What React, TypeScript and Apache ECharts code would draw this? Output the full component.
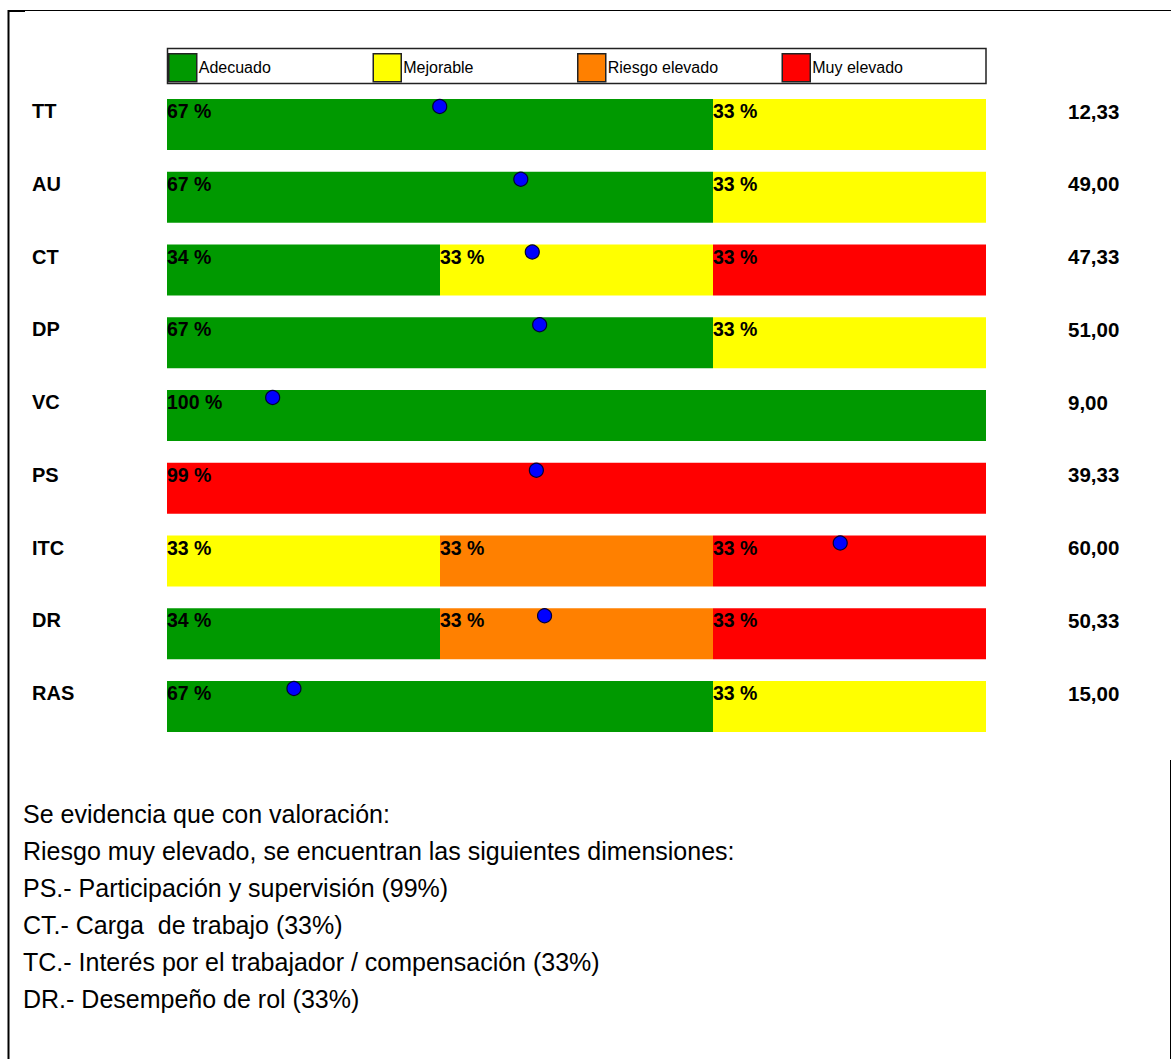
import React, { useEffect, useRef } from "react";
import * as echarts from "echarts";

// ---- data ----
const rows = ["TT", "AU", "CT", "DP", "VC", "PS", "ITC", "DR", "RAS"];
const levels = ["Adecuado", "Mejorable", "Riesgo elevado", "Muy elevado"];

// number of workers (of 3) in each level, per dimension
const workersAdecuado = [2, 2, 1, 2, 3, 0, 0, 1, 2];
const workersMejorable = [1, 1, 1, 1, 0, 0, 1, 0, 1];
const workersRiesgo = [0, 0, 0, 0, 0, 0, 1, 1, 0];
const workersMuy = [0, 0, 1, 0, 0, 3, 1, 1, 0];

// percentage labels as printed
const pctAdecuado = [67, 67, 34, 67, 100, 0, 0, 34, 67];
const pctMejorable = [33, 33, 33, 33, 0, 0, 33, 0, 33];
const pctRiesgo = [0, 0, 0, 0, 0, 0, 33, 33, 0];
const pctMuy = [0, 0, 33, 0, 0, 99, 33, 33, 0];

// mean score per dimension (right column)
const scores = [12.33, 49.0, 47.33, 51.0, 9.0, 39.33, 60.0, 50.33, 15.0];
// blue marker position along the bar (0-100 scale)
const markerPos = [33.3, 43.2, 44.6, 45.5, 12.9, 45.1, 82.2, 46.1, 15.5];

const notes = [
  "Se evidencia que con valoración:",
  "Riesgo muy elevado, se encuentran las siguientes dimensiones:",
  "PS.- Participación y supervisión (99%)",
  "CT.- Carga  de trabajo (33%)",
  "TC.- Interés por el trabajador / compensación (33%)",
  "DR.- Desempeño de rol (33%)",
];

const levelColors = ["#009900", "#ffff00", "#ff8000", "#ff0000"];
const FONT = "Liberation Sans, Arial, sans-serif";

export default function App() {
  const ref = useRef<HTMLDivElement>(null);

  useEffect(() => {
    if (!ref.current) return;
    const chart = echarts.init(ref.current, undefined, { renderer: "svg" });

    const workers = [workersAdecuado, workersMejorable, workersRiesgo, workersMuy];
    const pcts = [pctAdecuado, pctMejorable, pctRiesgo, pctMuy];

    const barSeries = levels.map((name, li) => ({
      name,
      type: "bar",
      stack: "total",
      xAxisIndex: 0,
      yAxisIndex: 0,
      barWidth: 51,
      itemStyle: { color: levelColors[li] },
      label: {
        show: true,
        position: [0, 2],
        fontFamily: FONT,
        fontWeight: "bold",
        fontSize: 19.5,
        color: "#000",
        formatter: (p: any) => `${pcts[li][p.dataIndex]} %`,
      },
      data: workers[li].map((v) => ({
        value: v,
        label: { show: v > 0 },
      })),
    }));

    const legends = levels.map((name, i) => ({
      data: [name],
      left: 168 + i * 204.5,
      top: 53,
      orient: "horizontal",
      itemWidth: 28,
      itemHeight: 28,
      itemGap: 0,
      padding: 0,
      icon: "rect",
      selectedMode: false,
      itemStyle: { borderColor: "#222", borderWidth: 1.5 },
      textStyle: { fontSize: 16, fontFamily: FONT, color: "#000", padding: [0, 0, 0, -3] },
    }));

    const graphics: any[] = [
      { type: "line", shape: { x1: 8.5, y1: 10, x2: 8.5, y2: 1059 }, style: { stroke: "#000", lineWidth: 2 } },
      { type: "line", shape: { x1: 8, y1: 10.5, x2: 1171, y2: 10.5 }, style: { stroke: "#000", lineWidth: 1 } },
      { type: "line", shape: { x1: 8, y1: 11, x2: 25, y2: 11 }, style: { stroke: "#000", lineWidth: 2 } },
      { type: "line", shape: { x1: 1170.5, y1: 760, x2: 1170.5, y2: 1059 }, style: { stroke: "#000", lineWidth: 1 } },
      {
        type: "rect",
        shape: { x: 167.5, y: 48.5, width: 818.5, height: 35 },
        style: { fill: "none", stroke: "#222", lineWidth: 1.5 },
      },
    ];
    notes.forEach((t, i) => {
      graphics.push({
        type: "text",
        x: 23,
        y: 813.5 + i * 37,
        style: {
          text: t,
          fontFamily: FONT,
          fontSize: 25,
          fill: "#000",
          verticalAlign: "middle",
          align: "left",
        },
      });
    });

    chart.setOption({
      animation: false,
      backgroundColor: "#fff",
      legend: legends,
      grid: { left: 167, right: 185, top: 88.125, height: 654.75, containLabel: false },
      xAxis: [
        { type: "value", min: 0, max: 3, show: false },
        { type: "value", min: 0, max: 100, show: false },
      ],
      yAxis: [
        {
          type: "category",
          inverse: true,
          data: rows,
          position: "left",
          axisLine: { show: false },
          axisTick: { show: false },
          splitLine: { show: false },
          axisLabel: {
            align: "left",
            verticalAlign: "bottom",
            lineHeight: 27,
            margin: 135,
            fontSize: 20,
            fontWeight: "bold",
            fontFamily: FONT,
            color: "#000",
          },
        },
        {
          type: "category",
          inverse: true,
          data: rows,
          position: "right",
          axisLine: { show: false },
          axisTick: { show: false },
          splitLine: { show: false },
          axisLabel: {
            align: "left",
            verticalAlign: "bottom",
            lineHeight: 27,
            margin: 82,
            fontSize: 20.5,
            fontWeight: "bold",
            fontFamily: FONT,
            color: "#000",
            formatter: (_v: string, idx: number) => scores[idx].toFixed(2).replace(".", ","),
          },
        },
      ],
      series: [
        ...barSeries,
        {
          name: "Puntuación",
          type: "scatter",
          xAxisIndex: 1,
          yAxisIndex: 0,
          symbol: "circle",
          symbolSize: 14,
          symbolOffset: [0, -18],
          itemStyle: { color: "#0000ff", borderColor: "#000033", borderWidth: 1.2, opacity: 1 },
          z: 10,
          data: markerPos.map((v, i) => [v, rows[i]]),
        },
      ],
      graphic: graphics,
    });

    return () => chart.dispose();
  }, []);

  return (
    <div
      ref={ref}
      style={{ position: "absolute", left: 0, top: 0, width: 1171, height: 1059 }}
    />
  );
}
